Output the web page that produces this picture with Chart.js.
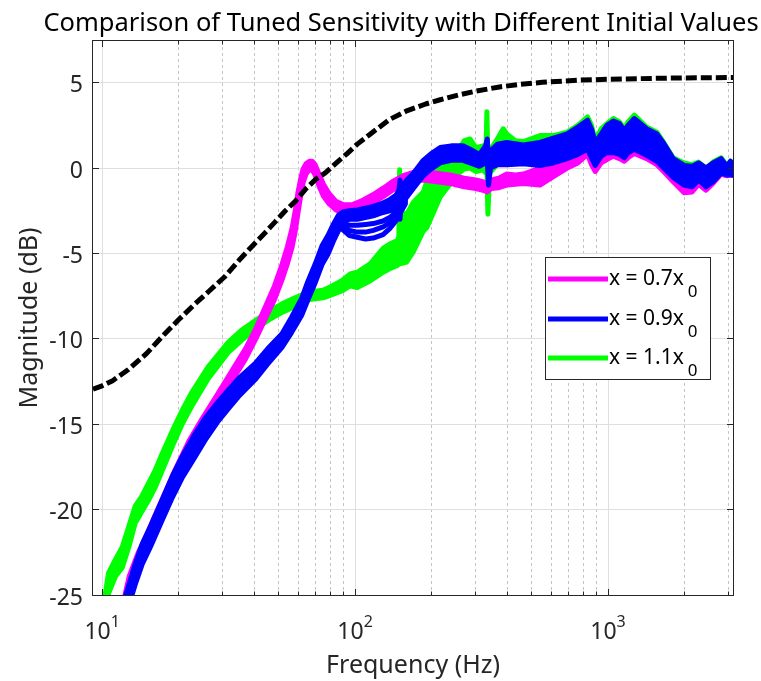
<!DOCTYPE html>
<html>
<head>
<meta charset="utf-8">
<script src="https://cdn.jsdelivr.net/npm/chart.js@4.4.0/dist/chart.umd.min.js"></script>
<style>
  html, body { margin: 0; padding: 0; background: #fff; }
</style>
</head>
<body>
<canvas id="chart" width="761" height="681"></canvas>
<script>
// target sensitivity (dashed)
const blackFreq = [9.2, 10, 11, 12.7, 15, 17.7, 20, 23.3, 26.5, 30.6, 35, 40.2, 44, 48.3, 53, 58, 64, 70, 76, 85,
  93, 102, 115, 137, 160, 190, 217, 260, 300, 372, 450, 550, 776, 1000, 1500, 2000, 3120];
const blackDb = [-12.95, -12.75, -12.45, -11.8, -10.85, -9.7, -8.9, -7.95, -7.2, -6.35, -5.35, -4.4, -3.8, -3.15, -2.5, -1.95, -1.2, -0.65, -0.3, 0.35,
  0.85, 1.4, 2.0, 2.85, 3.35, 3.75, 4.0, 4.3, 4.5, 4.75, 4.9, 5.02, 5.15, 5.2, 5.25, 5.28, 5.3];

// x = 0.7 x0 (upper / lower edge of the band of traces)
const magFreq = [12.0, 12.8, 13.9, 14.8, 16.0, 17.5, 19.4, 22.0, 24.8, 28.7, 32.5, 36.8, 40.5, 44.1, 48.0, 51.4, 54.0, 56.3, 58.0, 59.5,
  61.0, 62.3, 64.0, 66.0, 67.6, 69.5, 72.0, 75.0, 79.0, 84.0, 90.0, 97.0, 105, 118, 130, 142, 155, 170, 186, 210,
  237, 270, 300, 320, 333, 345, 370, 398, 430, 463, 538, 608, 690, 760, 830, 860, 890, 940, 990, 1050,
  1110, 1160, 1200, 1270, 1420, 1560, 1660, 1810, 2000, 2150, 2280, 2440, 2600, 2800, 2950, 3050, 3120];
const magHi = [-25.7, -23.9, -22.5, -21.7, -20.5, -19.2, -17.7, -16.0, -14.7, -13.2, -11.9, -10.6, -9.4, -8.15, -6.9, -5.65, -4.6, -3.55, -2.5, -1.4,
  -0.6, -0.05, 0.25, 0.4, 0.4, 0.2, -0.35, -0.95, -1.5, -1.95, -2.15, -2.15, -1.95, -1.55, -1.15, -0.75, -0.45, -0.25, -0.2, -0.3,
  -0.4, -0.6, -0.7, -0.8, -0.9, -0.7, -0.6, -0.35, -0.4, -0.35, 0.0, 0.2, 0.6, 0.9, 1.4, 0.9, 0.3, 0.9, 1.3, 1.5,
  1.3, 1.0, 1.2, 1.6, 1.3, 0.9, 0.4, -0.3, -0.7, -0.7, -0.3, -0.6, -0.3, 0.2, 0.0, 0.1, 0.0];
const magLo = [-26.3, -24.5, -23.1, -22.3, -21.1, -19.8, -18.3, -16.6, -15.3, -13.8, -12.5, -11.2, -10.0, -8.85, -7.7, -6.55, -5.6, -4.65, -3.7, -2.6,
  -1.6, -0.85, -0.35, -0.1, -0.1, -0.4, -1.05, -1.65, -2.1, -2.45, -2.65, -2.65, -2.45, -2.05, -1.65, -1.25, -0.95, -0.75, -0.7, -0.8,
  -0.9, -1.1, -1.2, -1.3, -1.4, -1.2, -1.15, -1.0, -0.95, -0.9, -1.0, -0.5, 0.0, 0.3, 0.8, 0.2, -0.2, 0.3, 0.5, 0.7,
  0.55, 0.4, 0.6, 0.85, 0.55, 0.2, -0.2, -0.8, -1.45, -1.4, -0.95, -1.3, -0.9, -0.35, -0.45, -0.4, -0.45];

// x = 0.9 x0
const blueFreq = [12.4, 13.5, 14.4, 15.5, 17.3, 19.0, 20.7, 23.0, 25.5, 28.5, 31.5, 35.0, 40.2, 45.0, 51.4, 56.0, 61.6, 65.0, 69.4, 74.0,
  78.1, 82.0, 86.0, 90.0, 95, 102, 118, 129, 137, 145, 149, 150.5, 152, 160, 170, 186, 200, 217, 240, 267,
  285, 310, 328, 333, 337, 343, 365, 398, 463, 538, 608, 690, 760, 830, 860, 890, 940, 990, 1050, 1110,
  1160, 1200, 1270, 1420, 1560, 1660, 1810, 2000, 2150, 2280, 2440, 2600, 2800, 2950, 3050, 3120];
const blueHi = [-25.0, -23.2, -22.0, -21.0, -19.4, -18.0, -16.9, -15.7, -14.65, -13.75, -13.0, -12.25, -11.45, -10.6, -9.7, -8.75, -7.6, -6.65, -5.65, -4.55,
  -3.95, -3.3, -2.75, -2.55, -2.5, -2.45, -2.25, -2.05, -1.85, -1.6, -1.3, -0.7, -1.2, -0.7, -0.3, 0.45, 0.85, 1.2, 1.3, 1.3,
  1.1, 0.8, 1.3, 1.7, 0.6, 1.0, 1.4, 1.5, 1.35, 1.5, 1.75, 2.0, 2.4, 2.8, 2.3, 1.5, 2.0, 2.5, 2.75, 2.6,
  2.2, 2.5, 2.9, 2.3, 2.0, 1.45, 0.55, 0.15, 0.1, 0.3, 0.0, 0.3, 0.55, 0.1, 0.4, 0.2];
const blueLo = [-26.2, -24.4, -23.2, -22.2, -20.6, -19.25, -18.15, -17.05, -15.95, -14.9, -14.1, -13.3, -12.4, -11.5, -10.5, -9.65, -8.6, -7.75, -6.75, -5.65,
  -5.05, -4.3, -3.65, -3.15, -3.0, -3.0, -2.8, -2.6, -2.5, -2.4, -2.3, -3.0, -2.2, -1.7, -1.2, -0.45, -0.05, 0.3, 0.45, 0.45,
  0.3, 0.1, 0.3, 0.4, -1.0, 0.0, 0.2, 0.2, 0.25, 0.15, 0.3, 0.55, 0.8, 1.1, 0.6, 0.15, 0.7, 0.9, 0.9, 0.8,
  0.6, 0.9, 1.1, 0.75, 0.4, 0.0, -0.55, -1.0, -1.1, -0.7, -1.1, -0.8, -0.3, -0.4, -0.4, -0.4];
// the blue traces that split off between 86 and 160 Hz
const blueSplitFreq = [86, 90, 95, 102, 110, 118, 129, 137, 145, 152, 158];
const blueSplitA = [-3.2, -3.25, -3.35, -3.35, -3.3, -3.25, -3.1, -2.9, -2.6, -2.2, -1.9];
const blueSplitB = [-3.3, -3.45, -3.65, -3.75, -3.75, -3.65, -3.45, -3.2, -2.9, -2.4, -2.0];
const blueSplitC = [-3.4, -3.65, -3.95, -4.05, -4.15, -4.1, -3.9, -3.55, -3.1, -2.55, -2.1];

// x = 1.1 x0
const greenFreq = [10.2, 10.6, 11.3, 12.0, 12.8, 13.5, 14.3, 15.2, 16.2, 17.3, 19.0, 20.7, 22.7, 26.2, 31.5, 35.5, 40.2, 46.0, 51.4, 57.9,
  66.0, 74.6, 80.0, 88.6, 95.6, 102, 115, 129, 137, 147, 149, 150, 151.5, 160, 170, 186, 192, 217, 253, 270,
  285, 300, 320, 329, 332, 335, 340, 365, 385, 398, 430, 463, 538, 608, 690, 760, 830, 860, 890, 940,
  990, 1050, 1110, 1160, 1200, 1270, 1420, 1560, 1660, 1810, 2000, 2150, 2280, 2440, 2600, 2800, 2950, 3050, 3120];
const greenHi = [-25.3, -23.7, -22.9, -22.2, -20.9, -19.8, -19.25, -18.5, -17.7, -16.7, -15.35, -14.2, -13.1, -11.65, -10.2, -9.5, -8.95, -8.35, -7.95, -7.6,
  -7.25, -7.15, -6.95, -6.6, -6.2, -6.1, -5.6, -4.7, -4.45, -4.25, -4.0, -0.1, -2.6, -2.7, -2.0, -1.4, -0.8, 0.3, 0.95, 1.6,
  1.7, 1.2, 1.3, 1.0, 3.3, 0.5, 1.0, 1.7, 2.3, 2.0, 1.6, 1.55, 1.9, 1.9, 2.1, 2.5, 3.0, 2.5, 1.6, 2.3,
  2.6, 2.9, 2.7, 2.3, 2.7, 3.1, 2.4, 2.1, 1.5, 0.6, 0.3, 0.2, 0.35, 0.0, 0.35, 0.6, 0.15, 0.4, 0.3];
const greenLo = [-26.7, -24.9, -23.9, -23.4, -22.1, -20.8, -20.15, -19.5, -18.7, -17.7, -16.25, -15.0, -13.9, -12.35, -10.8, -10.1, -9.45, -8.85, -8.45, -8.1,
  -7.7, -7.6, -7.45, -7.2, -6.9, -7.0, -6.6, -6.1, -5.9, -5.7, -5.5, -5.5, -5.6, -5.5, -4.9, -3.7, -3.5, -1.7, -0.4, -0.05,
  0.0, -0.2, -0.1, -0.3, 0.0, -2.7, -0.3, 0.2, 0.3, 0.3, 0.3, 0.3, 0.3, 0.4, 0.6, 0.9, 1.2, 0.7, 0.3, 0.8,
  1.0, 1.0, 0.9, 0.7, 1.0, 1.3, 0.9, 0.5, 0.1, -0.4, -0.8, -0.9, -0.6, -0.9, -0.6, -0.2, -0.3, -0.3, -0.3];

// axes
const xGridValues = [10, 20, 30, 40, 50, 60, 70, 80, 90, 100, 200, 300, 400, 500, 600, 700, 800, 900, 1000, 2000, 3000];
const xMajorValues = [10, 100, 1000];
const xTickBase = ['10', '10', '10'];
const xTickExp = ['1', '2', '3'];
const yTickValues = [-25, -20, -15, -10, -5, 0, 5];
const yTickLabels = ['-25', '-20', '-15', '-10', '-5', '0', '5'];

const legendLabels = ['x = 0.7x', 'x = 0.9x', 'x = 1.1x'];
const legendSub = '0';
const legendColors = ['#ff00ff', '#0000ff', '#00ff00'];

const FONT = '"Noto Sans", "Open Sans", sans-serif';
Chart.defaults.font.family = FONT;

function pts(xs, ys) {
  return xs.map((f, i) => ({ x: f, y: ys[i] }));
}

function band(label, xs, hi, lo, color, order) {
  return [
    { label: label, data: pts(xs, hi), borderColor: color, borderWidth: 5, order: order, clip: 0, fill: false },
    { label: label, data: pts(xs, lo), borderColor: color, backgroundColor: color, borderWidth: 5, order: order, clip: 0, fill: '-1' }
  ];
}

function thin(label, xs, ys, color, order) {
  return { label: label, data: pts(xs, ys), borderColor: color, borderWidth: 5, order: order, clip: 0, fill: false };
}

const datasets = [
  { label: 'target', data: pts(blackFreq, blackDb), borderColor: '#000', borderWidth: 5, borderDash: [11, 4],
    borderCapStyle: 'butt', order: 0, clip: 0, fill: false },
  ...band('x = 0.9x0', blueFreq, blueHi, blueLo, legendColors[1], 1),
  thin('split a', blueSplitFreq, blueSplitA, legendColors[1], 1),
  thin('split b', blueSplitFreq, blueSplitB, legendColors[1], 1),
  thin('split c', blueSplitFreq, blueSplitC, legendColors[1], 1),
  ...band('x = 0.7x0', magFreq, magHi, magLo, legendColors[0], 2),
  ...band('x = 1.1x0', greenFreq, greenHi, greenLo, legendColors[2], 3)
];

function align(p) {
  return Math.round(p - 0.5) + 0.5;
}

const matlabAxes = {
  id: 'matlabAxes',
  afterDatasetsDraw(chart) {
    const { ctx, chartArea: a, scales: { x, y } } = chart;
    ctx.save();
    ctx.strokeStyle = '#262626';
    ctx.lineWidth = 1;
    ctx.beginPath();
    xGridValues.forEach(v => {
      const px = align(x.getPixelForValue(v));
      const len = xMajorValues.includes(v) ? 6 : 3.5;
      ctx.moveTo(px, a.bottom); ctx.lineTo(px, a.bottom - len);
      ctx.moveTo(px, a.top); ctx.lineTo(px, a.top + len);
    });
    yTickValues.forEach(v => {
      const py = align(y.getPixelForValue(v));
      ctx.moveTo(a.left, py); ctx.lineTo(a.left + 6, py);
      ctx.moveTo(a.right, py); ctx.lineTo(a.right - 6, py);
    });
    ctx.stroke();
    ctx.strokeRect(a.left - 0.5, a.top - 0.5, a.right - a.left + 1, a.bottom - a.top + 1);
    ctx.restore();
  },
  afterDraw(chart) {
    const { ctx, chartArea: a, scales: { x } } = chart;
    ctx.save();

    // x tick labels 10^n
    ctx.fillStyle = '#262626';
    ctx.textBaseline = 'alphabetic';
    ctx.textAlign = 'left';
    xMajorValues.forEach((v, i) => {
      const px = x.getPixelForValue(v);
      ctx.font = '23px ' + FONT;
      const wb = ctx.measureText(xTickBase[i]).width;
      ctx.font = '16px ' + FONT;
      const we = ctx.measureText(xTickExp[i]).width;
      const x0 = px - (wb + we) / 2;
      ctx.font = '23px ' + FONT;
      ctx.fillText(xTickBase[i], x0, 639);
      ctx.font = '16px ' + FONT;
      ctx.fillText(xTickExp[i], x0 + wb, 627);
    });

    // axis titles
    ctx.font = '25px ' + FONT;
    ctx.textAlign = 'center';
    ctx.fillText('Frequency (Hz)', (a.left + a.right) / 2, 673);
    ctx.save();
    ctx.translate(30, (a.top + a.bottom) / 2);
    ctx.rotate(-Math.PI / 2);
    ctx.textBaseline = 'middle';
    ctx.fillText('Magnitude (dB)', 0, 0);
    ctx.restore();

    // title
    ctx.fillStyle = '#000';
    ctx.font = '25.5px ' + FONT;
    ctx.fillText('Comparison of Tuned Sensitivity with Different Initial Values', 401, 31);

    // legend
    ctx.fillStyle = '#fff';
    ctx.fillRect(545.5, 257.5, 165, 122);
    ctx.strokeStyle = '#262626';
    ctx.lineWidth = 1;
    ctx.strokeRect(545.5, 257.5, 165, 122);
    const rows = [279, 319, 358];
    legendLabels.forEach((lab, i) => {
      const ly = rows[i];
      ctx.strokeStyle = legendColors[i];
      ctx.lineWidth = 5;
      ctx.beginPath();
      ctx.moveTo(548, ly); ctx.lineTo(608, ly);
      ctx.stroke();
      ctx.fillStyle = '#000';
      ctx.textAlign = 'left';
      ctx.textBaseline = 'alphabetic';
      ctx.font = '21px ' + FONT;
      ctx.fillText(lab, 609, ly + 6);
      const w = ctx.measureText(lab).width;
      ctx.font = '17px ' + FONT;
      ctx.fillText(legendSub, 609 + w + 4, ly + 18);
    });
    ctx.restore();
  }
};

new Chart(document.getElementById('chart'), {
  type: 'line',
  data: { datasets: datasets },
  options: {
    responsive: false,
    animation: false,
    events: [],
    layout: { padding: { top: 41, right: 28, left: 0, bottom: 0 } },
    elements: {
      point: { radius: 0 },
      line: { tension: 0, borderJoinStyle: 'round', borderCapStyle: 'round' }
    },
    plugins: {
      legend: { display: false },
      title: { display: false },
      tooltip: { enabled: false }
    },
    scales: {
      x: {
        type: 'logarithmic',
        min: 9.2,
        max: 3120,
        afterBuildTicks: s => { s.ticks = xGridValues.map(v => ({ value: v, major: xMajorValues.includes(v) })); },
        afterFit: s => { s.height = 86; },
        ticks: { display: false },
        grid: {
          drawTicks: false,
          color: c => (c.tick && xMajorValues.includes(c.tick.value)) ? '#dfdfdf' : '#c4c4c4'
        },
        border: {
          display: false,
          dash: c => (c.tick && !xMajorValues.includes(c.tick.value)) ? [3, 3] : []
        }
      },
      y: {
        type: 'linear',
        min: -25,
        max: 7.44,
        afterBuildTicks: s => { s.ticks = yTickValues.map(v => ({ value: v })); },
        afterFit: s => { s.width = 93; },
        ticks: {
          font: { size: 23 },
          color: '#262626',
          padding: 10,
          labelOffset: 3,
          callback: v => yTickLabels[yTickValues.indexOf(v)]
        },
        grid: { drawTicks: false, color: '#dfdfdf' },
        border: { display: false }
      }
    }
  },
  plugins: [matlabAxes]
});
</script>
</body>
</html>
